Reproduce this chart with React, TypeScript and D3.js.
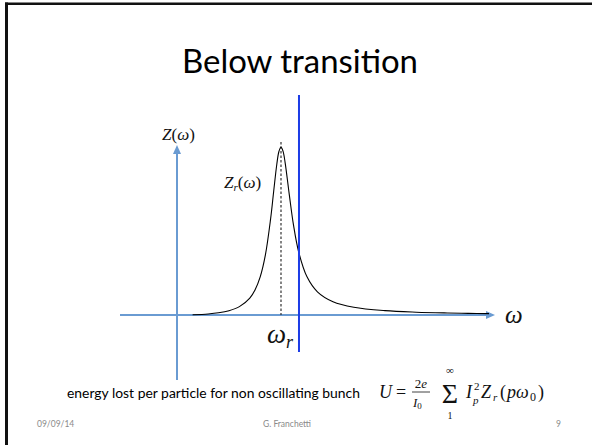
import React from "react";
import * as d3 from "d3";

// Resonator impedance curve, omega in units of omega_r
const omegaValues = [0.15, 0.3, 0.4, 0.5, 0.6, 0.7, 0.75, 0.8, 0.85, 0.9, 0.93, 0.96, 0.98, 1.0, 1.02, 1.04, 1.08, 1.12, 1.17, 1.25, 1.35, 1.5, 1.7, 2.0, 2.3, 2.6, 2.8, 3.0];
const zValues = [0.0014, 0.0064, 0.0133, 0.0258, 0.0497, 0.1008, 0.149, 0.227, 0.358, 0.572, 0.738, 0.899, 0.973, 1.0, 0.974, 0.906, 0.715, 0.536, 0.375, 0.227, 0.138, 0.079, 0.046, 0.0258, 0.0168, 0.012, 0.0099, 0.0083];
const resonanceOmega = 1.0;
const operatingOmega = 1.173;
const titleText = "Below transition";
const captionText = "energy lost per particle for non oscillating bunch";
const footerLeft = "09/09/14";
const footerCenter = "G. Franchetti";
const footerRight = "9";

const W = 592;
const H = 445;
const lightBlue = "#6a9bd2";
const darkBlue = "#1c3ce6";
const mathFont = "'Liberation Serif', 'DejaVu Serif', serif";
const sansFont = "Lato, 'Open Sans', sans-serif";

export default function App() {
  const x = d3.scaleLinear().domain([0, 3]).range([177, 489]);
  const y = d3.scaleLinear().domain([0, 1]).range([315, 147]);
  const pts = omegaValues.map((w, i) => [w, zValues[i]] as [number, number]);
  const line = d3
    .line<[number, number]>()
    .x((d) => x(d[0]))
    .y((d) => y(d[1]))
    .curve(d3.curveCatmullRom.alpha(0.5));

  const x0 = x(0);
  const y0 = y(0);
  const xr = x(resonanceOmega);
  const xo = x(operatingOmega);

  return (
    <svg
      width={W}
      height={H}
      viewBox={`0 0 ${W} ${H}`}
      style={{ position: "absolute", left: 0, top: 0, background: "#fff" }}
    >
      <rect x={0} y={0} width={W} height={H} fill="#fff" />
      {/* slide frame */}
      <rect x={5} y={2.5} width={W - 5} height={2.5} fill="#111" />
      <rect x={5} y={2.5} width={3} height={H - 2.5} fill="#111" />

      {/* title */}
      <text x={300} y={73} textAnchor="middle" fontFamily={sansFont} fontSize={33} fill="#000" textLength={236} lengthAdjust="spacingAndGlyphs">
        {titleText}
      </text>

      {/* horizontal axis */}
      <line x1={120} y1={y0} x2={489} y2={y0} stroke={lightBlue} strokeWidth={2} />
      <polygon points={`${495},${y0} ${486},${y0 - 4} ${486},${y0 + 4}`} fill={lightBlue} />
      {/* vertical axis */}
      <line x1={x0} y1={380} x2={x0} y2={153} stroke={lightBlue} strokeWidth={2} />
      <polygon points={`${x0},${145} ${x0 - 4},${154} ${x0 + 4},${154}`} fill={lightBlue} />

      {/* dashed resonance line */}
      <line x1={xr} y1={142} x2={xr} y2={y0} stroke="#333" strokeWidth={1.2} strokeDasharray="2.5,2" />

      {/* impedance curve */}
      <path d={line(pts) || ""} fill="none" stroke="#000" strokeWidth={1.1} />

      {/* operating line */}
      <line x1={xo} y1={95} x2={xo} y2={352} stroke={darkBlue} strokeWidth={2} />

      {/* labels */}
      <text x={162} y={140} fontFamily={mathFont} fontSize={17} fill="#111">
        <tspan fontStyle="italic">Z</tspan>
        <tspan>(</tspan>
        <tspan fontStyle="italic">ω</tspan>
        <tspan>)</tspan>
      </text>
      <text x={224} y={188} fontFamily={mathFont} fontSize={17} fill="#111">
        <tspan fontStyle="italic">Z</tspan>
        <tspan fontStyle="italic" fontSize={11} dy={3}>r</tspan>
        <tspan dy={-3}>(</tspan>
        <tspan fontStyle="italic">ω</tspan>
        <tspan>)</tspan>
      </text>
      <text x={505} y={323} fontFamily={mathFont} fontSize={25} fontStyle="italic" fill="#111">
        ω
      </text>
      <text x={267} y={343} fontFamily={mathFont} fontSize={27} fill="#111">
        <tspan fontStyle="italic">ω</tspan>
        <tspan fontStyle="italic" fontSize={18} dy={5}>r</tspan>
      </text>

      {/* caption */}
      <text x={67} y={398} fontFamily={sansFont} fontSize={12.5} fill="#000" textLength={293} lengthAdjust="spacingAndGlyphs">
        {captionText}
      </text>

      {/* formula */}
      <g fontFamily={mathFont} fill="#111">
        <text x={379} y={398} fontSize={18} fontStyle="italic">U</text>
        <text x={396} y={398} fontSize={18}>=</text>
        <text x={421} y={388} fontSize={13} textAnchor="middle">
          <tspan>2</tspan>
          <tspan fontStyle="italic">e</tspan>
        </text>
        <line x1={412} y1={392} x2={430} y2={392} stroke="#111" strokeWidth={0.8} />
        <text x={413} y={407} fontSize={13}>
          <tspan fontStyle="italic">I</tspan>
          <tspan fontSize={9} dy={2}>0</tspan>
        </text>
        <text x={450} y={403} fontSize={28} textAnchor="middle">Σ</text>
        <text x={450} y={374} fontSize={11} textAnchor="middle">∞</text>
        <text x={450} y={419} fontSize={10} textAnchor="middle">1</text>
        <text x={466} y={398} fontSize={18} fontStyle="italic">I</text>
        <text x={474} y={390} fontSize={11}>2</text>
        <text x={473} y={404} fontSize={11} fontStyle="italic">p</text>
        <text x={481} y={398} fontSize={18} fontStyle="italic">Z</text>
        <text x={493} y={401} fontSize={11} fontStyle="italic">r</text>
        <text x={500} y={398} fontSize={18}>(</text>
        <text x={507} y={398} fontSize={18} fontStyle="italic">pω</text>
        <text x={530} y={401} fontSize={12}>0</text>
        <text x={538} y={398} fontSize={18}>)</text>
      </g>

      {/* footer */}
      <g fontFamily={sansFont} fontSize={8.5} fill="#8a8a8a">
        <text x={37} y={427}>{footerLeft}</text>
        <text x={287} y={427} textAnchor="middle">{footerCenter}</text>
        <text x={556} y={427}>{footerRight}</text>
      </g>
    </svg>
  );
}
